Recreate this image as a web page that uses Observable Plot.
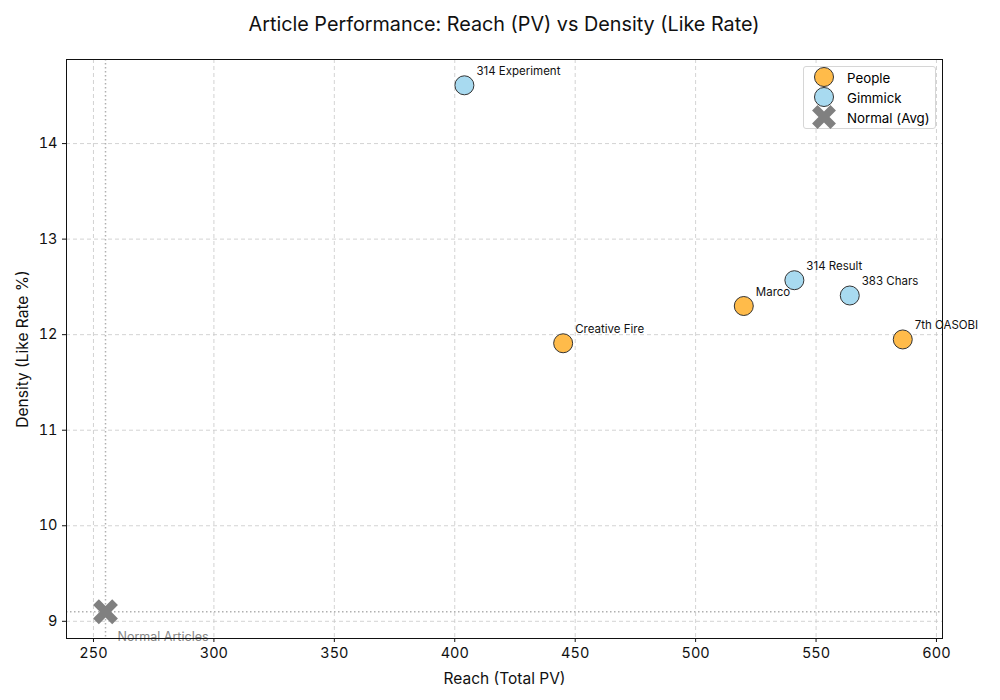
<!DOCTYPE html>
<html>
<head>
<meta charset="utf-8">
<script src="https://cdn.jsdelivr.net/npm/d3@7"></script>
<script src="https://cdn.jsdelivr.net/npm/@observablehq/plot@0.6"></script>
<style>
  body { margin: 0; background: white; font-family: Inter, Roboto, sans-serif; }
  #wrap { position: relative; width: 1000px; height: 700px; background: white; }
  #title { height: 48px; box-sizing: border-box; padding: 12px 58px 0 66px; text-align: center; font-size: 19.8px; line-height: 24px; color: #111; }
  #legend { position: absolute; left: 803px; top: 66px; width: 133px; height: 63px; border: 1px solid #d6d6d6; border-radius: 3px; background: rgba(255,255,255,0.85); box-sizing: border-box; font-size: 13.3px; }
  .item { position: absolute; left: 0; height: 20px; display: flex; align-items: center; }
  .item svg { position: absolute; left: 8px; }
  .item span { position: absolute; left: 43px; white-space: nowrap; line-height: 20px; }
</style>
</head>
<body>
<div id="wrap">
  <div id="title">Article Performance: Reach (PV) vs Density (Like Rate)</div>
  <div id="chart"></div>
  <div id="legend"></div>
</div>
<script>
// Data
const labels = ["314 Experiment", "Creative Fire", "Marco", "314 Result", "383 Chars", "7th OASOBI"];
const reach = [404, 445, 520, 541, 564, 586];
const density = [14.61, 11.91, 12.30, 12.57, 12.41, 11.95];
const groups = ["Gimmick", "People", "People", "Gimmick", "Gimmick", "People"];
const normalLabel = ["Normal Articles"];
const normalReach = [255];
const normalDensity = [9.1];
const xTicks = [250, 300, 350, 400, 450, 500, 550, 600];
const yTicks = [9, 10, 11, 12, 13, 14];
const groupNames = ["People", "Gimmick"];
const groupColors = ["#ffbb4a", "#a8daf0"];

const points = labels.map((l, i) => ({label: l, x: reach[i], y: density[i], g: groups[i]}));
const normal = normalLabel.map((l, i) => ({label: l, x: normalReach[i], y: normalDensity[i]}));

// filled X marker (like matplotlib "X")
const xSymbol = {
  draw(context, size) {
    const L = Math.sqrt(size / Math.PI);
    const a = L * 0.3;
    const pts = [[a, L], [a, a], [L, a], [L, -a], [a, -a], [a, -L], [-a, -L], [-a, -a], [-L, -a], [-L, a], [-a, a], [-a, L]];
    const c = Math.SQRT1_2;
    pts.forEach(([px, py], i) => {
      const rx = (px - py) * c, ry = (px + py) * c;
      if (i === 0) context.moveTo(rx, ry); else context.lineTo(rx, ry);
    });
    context.closePath();
  }
};

const chart = Plot.plot({
  width: 1000,
  height: 652,
  marginTop: 11,
  marginBottom: 62,
  marginLeft: 66,
  marginRight: 58,
  style: {fontFamily: "Inter, Roboto, sans-serif", fontSize: "14px", color: "#111", background: "white"},
  x: {domain: [238.8, 602.5]},
  y: {domain: [8.82, 14.88]},
  color: {domain: groupNames, range: groupColors},
  marks: [
    Plot.gridX(xTicks, {stroke: "#c8c8c8", strokeOpacity: 1, strokeDasharray: "4,3", strokeWidth: 0.8}),
    Plot.gridY(yTicks, {stroke: "#c8c8c8", strokeOpacity: 1, strokeDasharray: "4,3", strokeWidth: 0.8}),
    Plot.ruleX(normalReach, {stroke: "#b0b0b0", strokeDasharray: "1.5,2.5", strokeWidth: 1.5}),
    Plot.ruleY(normalDensity, {stroke: "#b0b0b0", strokeDasharray: "1.5,2.5", strokeWidth: 1.5}),
    Plot.axisX({ticks: xTicks, tickFormat: d3.format("d"), tickSize: 4, tickPadding: 5, fontSize: 14.5, label: "Reach (Total PV)", labelAnchor: "center", labelArrow: "none", labelOffset: 45, style: {fontSize: "15.5px"}}),
    Plot.axisY({ticks: yTicks, tickFormat: d3.format("d"), tickSize: 4, tickPadding: 5, fontSize: 14.5, label: "Density (Like Rate %)", labelAnchor: "center", labelArrow: "none", labelOffset: 50}),
    Plot.dot(normal, {x: "x", y: "y", r: 13.5, symbol: xSymbol, fill: "#808080", stroke: "none"}),
    Plot.text(normal, {x: "x", y: "y", text: "label", dx: 12, dy: 25, textAnchor: "start", fill: "#888", fontSize: 12.5}),
    Plot.dot(points, {x: "x", y: "y", r: 9.5, fill: "g", stroke: "#333", strokeWidth: 1}),
    Plot.text(points, {x: "x", y: "y", text: "label", dx: 12, dy: -14, textAnchor: "start", fill: "#111", fontSize: 11.5}),
    Plot.frame({stroke: "#111", strokeWidth: 1})
  ]
});
document.getElementById("chart").appendChild(chart);
// enlarge axis titles slightly relative to tick labels
chart.querySelectorAll("g[aria-label='x-axis label'] text, g[aria-label='y-axis label'] text").forEach(t => t.setAttribute("font-size", "15.5"));

// legend
const legend = document.getElementById("legend");
const entries = [
  {name: groupNames[0], kind: "circle", color: groupColors[0]},
  {name: groupNames[1], kind: "circle", color: groupColors[1]},
  {name: "Normal (Avg)", kind: "x", color: "#808080"}
];
entries.forEach((e, i) => {
  const div = document.createElement("div");
  div.className = "item";
  div.style.top = (1 + i * 20) + "px";
  let shape;
  if (e.kind === "circle") {
    shape = `<circle cx="12" cy="10" r="9.5" fill="${e.color}" stroke="#333" stroke-width="1"/>`;
  } else {
    const path = d3.symbol(xSymbol, Math.PI * 13 * 13)();
    shape = `<path transform="translate(12,10)" d="${path}" fill="${e.color}"/>`;
  }
  div.innerHTML = `<svg width="26" height="22" style="top:-1px;overflow:visible">${shape}</svg><span>${e.name}</span>`;
  legend.appendChild(div);
});
</script>
</body>
</html>
